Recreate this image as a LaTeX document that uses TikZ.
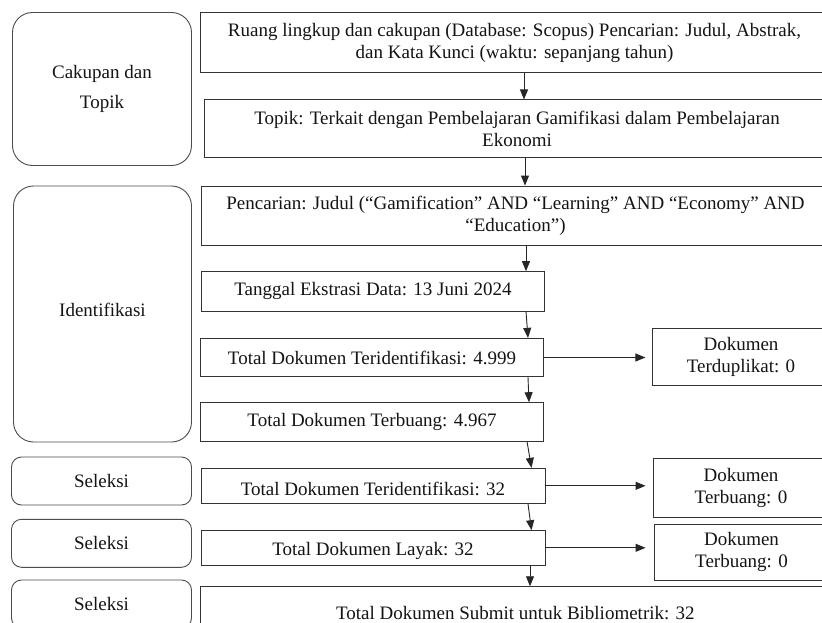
\documentclass[tikz,border=0pt]{standalone}
\usepackage{fontspec}
\setmainfont{Liberation Serif}
\usetikzlibrary{arrows.meta}
\begin{document}
\begin{tikzpicture}[x=1pt,y=-1pt,
  every node/.style={font=\fontsize{19}{22}\selectfont, text=black!92, inner sep=0pt},
  box/.style={draw=black!80, line width=0.9pt, rectangle, align=center},
  phase/.style={draw=black!70, line width=0.9pt, rectangle, rounded corners=20pt, align=center},
  phasesm/.style={phase, rounded corners=10pt},
  arr/.style={draw=black!85, line width=0.9pt, -{Triangle[length=10pt,width=8pt]}}
]
\useasboundingbox (0,0) rectangle (822,623);
\fill[white] (0,0) rectangle (822,623);
\clip (0,0) rectangle (822,623);

% phase boxes (left)
\node[phase, minimum width=179pt, minimum height=153pt, font=\fontsize{19}{30}\selectfont] (cak) at (102,89) {Cakupan dan\\Topik};
\node[phase, minimum width=178pt, minimum height=256pt] (idf) at (102.5,314) {Identifikasi\rule[-8pt]{0pt}{1pt}};
\node[phasesm, minimum width=180pt, minimum height=48pt] (sel1) at (101.5,481) {Seleksi};
\node[phasesm, minimum width=180pt, minimum height=48pt] (sel2) at (101.5,543.3) {Seleksi};
\node[phasesm, minimum width=180pt, minimum height=48pt] (sel3) at (101.5,604) {Seleksi};

% main flow
\node[box, minimum width=629pt, minimum height=59.6pt] (b1) at (514.5,42.5) {Ruang lingkup dan cakupan (Database: Scopus) Pencarian: Judul, Abstrak,\\dan Kata Kunci (waktu: sepanjang tahun)};
\node[box, minimum width=626pt, minimum height=57.7pt] (b2) at (517,128.8) {Topik: Terkait dengan Pembelajaran Gamifikasi dalam Pembelajaran\\Ekonomi};
\node[box, minimum width=629pt, minimum height=59pt] (b3) at (515.5,215.5) {Pencarian: Judul (“Gamification” AND “Learning” AND “Economy” AND\\“Education”)};
\node[box, minimum width=342.6pt, minimum height=39.3pt] (tg) at (373,291.3) {Tanggal Ekstrasi Data: 13 Juni 2024};
\node[box, minimum width=342.6pt, minimum height=38.4pt] (tid) at (372,357.5) {Total Dokumen Teridentifikasi: 4.999};
\node[box, minimum width=342.6pt, minimum height=38.3pt] (tb) at (372,421.8) {Total Dokumen Terbuang: 4.967};
\node[box, minimum width=344pt, minimum height=35pt] (tid32) at (373,485.8) {\rule{0pt}{20pt}Total Dokumen Teridentifikasi: 32};
\node[box, minimum width=344pt, minimum height=34.3pt] (layak) at (373,547.8) {\rule{0pt}{19pt}Total Dokumen Layak: 32};
\node[box, minimum width=629pt, minimum height=52pt] (final) at (515.4,612.7) {Total Dokumen Submit untuk Bibliometrik: 32};

% side boxes
\node[box, minimum width=176.3pt, minimum height=56.3pt] (dup) at (741,356.9) {Dokumen\\Terduplikat: 0};
\node[box, minimum width=176pt, minimum height=59pt] (tb1) at (741,487.8) {Dokumen\\Terbuang: 0};
\node[box, minimum width=175pt, minimum height=56pt] (tb2) at (741.5,552) {Dokumen\\Terbuang: 0};

% vertical connectors
\draw[arr] (b1.south -| 524,0) -- (b2.north -| 524,0);
\draw[arr] (b2.south -| 525,0) -- (b3.north -| 525,0);
\draw[arr] (b3.south -| 526,0) -- (tg.north -| 526,0);
\draw[arr] (tg.south -| 526,0) -- (tid.north -| 528,0);
\draw[arr] (tid.south -| 528,0) -- (tb.north -| 529,0);
\draw[arr] (tb.south -| 527,0) -- (tid32.north -| 531.5,0);
\draw[arr] (tid32.south -| 528,0) -- (layak.north -| 531.5,0);
\draw[arr] (layak.south -| 530,0) -- (final.north -| 530,0);

% horizontal connectors
\draw[arr, shorten >=7pt] (tid.east) -- (dup.west |- tid.east);
\draw[arr, shorten >=7pt] (tid32.east) -- (tb1.west |- tid32.east);
\draw[arr, shorten >=8pt] (layak.east) -- (tb2.west |- layak.east);
\end{tikzpicture}
\end{document}
